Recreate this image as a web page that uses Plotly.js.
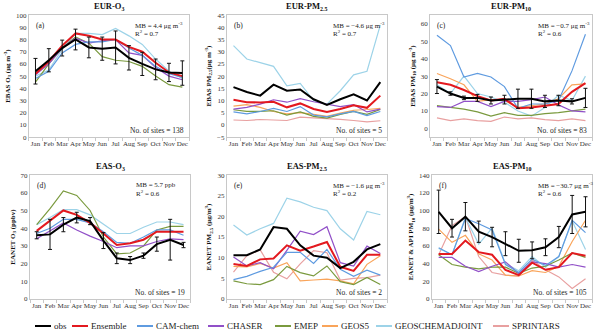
<!DOCTYPE html>
<html>
<head>
<meta charset="utf-8">
<script src="https://cdn.plot.ly/plotly-3.0.1.min.js"></script>
<style>
  html, body { margin: 0; padding: 0; background: #fff; }
  #chart { width: 600px; height: 336px; }
</style>
</head>
<body>
<div id="chart"></div>
<script>
var months = ['Jan', 'Feb', 'Mar', 'Apr', 'May', 'Jun', 'Jul', 'Aug', 'Sep', 'Oct', 'Nov', 'Dec'];
var models = ['obs', 'Ensemble', 'CAM-chem', 'CHASER', 'EMEP', 'GEOS5', 'GEOSCHEMADJOINT', 'SPRINTARS'];

// each panel: one row per model, in the order of `models` (null = not shown)
// (a) EUR-O3
var eurO3 = [
  [54, 63, 73, 80, 73.5, 72.5, 73.5, 65, 60, 55.5, 53, 52.5],
  [52, 62, 75, 85, 83, 80, 80, 74, 70, 61, 53, 50],
  [48, 54, 69, 76, 78, 78, 80, 73, 67, 58, 52, 49],
  [51, 60, 73, 81, 77, 79, 80, 69, 67, 57, 50, 47],
  [45, 60, 73, 82, 77, 66, 63, 62, 58, 50, 43, 41],
  null,
  [50, 55, 72, 85, 85, 84, 89, 83, 76, 64, 54, 48],
  null
];
var eurO3Err = [10.5, 9.5, 6.5, 8.5, 8.5, 9.5, 13.5, 10, 9.5, 8.5, 7.5, 10];

// (b) EUR-PM2.5
var eurPM25 = [
  [15.5, 13.5, 12, 16.5, 14, 14.5, 10.5, 8.2, 10.5, 12.5, 10, 17.5],
  [10.3, 9.3, 9.2, 9.5, 7.2, 8.8, 6.5, 5.3, 6.5, 8, 7, 12],
  [5.3, 4.5, 5.5, 6.8, 5.5, 7.5, 4, 3.3, 4.5, 5.5, 3.8, 5.5],
  [6.5, 7.2, 8.5, 10.3, 9.3, 10.8, 9.5, 8.5, 7.5, 8.3, 5.3, 6.5],
  [6.2, 5.5, 5.5, 5.8, 4, 5.3, 3.5, 2.8, 4.3, 5.5, 4.3, 6.3],
  [7.7, 8.3, 7.2, 5.5, 4.5, 5, 4.3, 3.5, 4.8, 6, 6.3, 6.8],
  [32.5, 27, 25.5, 24, 16, 17, 10, 8.5, 14, 20.5, 22, 41],
  [2, 1.8, 2.2, 2.1, 1.8, 3.2, 3, 2.5, 2.3, 1.8, 1.2, 1.7]
];

// (c) EUR-PM10
var eurPM10 = [
  [24, 20, 17.5, 17.5, 16, 16.5, 17, 17, 15.5, 16, 15.5, 17.5],
  [26.5, 25, 22, 18.5, 16, 17, 11.5, 12, 13, 14, 21, 26],
  [53.5, 47.5, 29.5, 31.5, 29.5, 24, 11.5, 14, 14, 16, 33, 54],
  [12.5, 12, 15.5, 15.5, 12.5, 15.5, 15.5, 16.5, 18, 13.5, 10, 9.5],
  [13, 12, 11, 9.5, 7, 9, 7.5, 7.5, 8.5, 9, 10, 11],
  [31.5, 28.5, 25, 15.5, 16.5, 16, 12, 13, 14, 17, 25, 25.5],
  [25, 20, 30, 20, 18, 15, 10, 7, 12, 19, 16, 30],
  [6, 4.5, 5.5, 4.5, 4, 6.5, 5.5, 6, 5, 4.5, 5.5, 4.5]
];
var eurPM10Err = [4, 1, 1, 2, 2, 2.5, 5.5, 5.5, 3.5, 3, 1.5, 5.5];

// (d) EAS-O3
var easO3 = [
  [36, 36.5, 42, 46, 44, 33, 23, 22, 24.5, 31, 33.5, 30.5],
  [38.5, 44, 50, 47.5, 43, 37, 30.5, 31.5, 33.5, 38, 38, 38],
  [37, 40, 45, 45, 43, 38, 32, 31.5, 35, 39, 39, 36],
  [34, 38.5, 43, 39, 35.5, 32.5, 29, 30, 30, 32.5, 34, 33.5],
  [42, 51, 61, 58.5, 50, 35, 25.5, 26, 30, 39, 41, 41],
  null,
  [42, 46, 50.5, 50.5, 47.5, 42, 37, 37, 40.5, 43.5, 43.5, 42],
  null
];
var easO3Err = [2, 8.5, 4, 3, 2, 4.5, 3, 2, 1.5, 4, 11.5, 1.5];

// (e) EAS-PM2.5
var easPM25 = [
  [10.6, 10.6, 12, 17.4, 17, 13, 10.5, 10, 7.5, 9, 12, 13.3],
  [8.5, 8, 9.6, 9.8, 13, 11.7, 12.7, 13.8, 7.8, 6.8, 10.7, 10.7],
  [4.7, 5.5, 6.7, 7.7, 11.3, 11.3, 8.6, 12, 7.2, 5.5, 7, 5.8],
  [10.2, 8, 8.8, 7.3, 11.8, 16.4, 15.6, 17.5, 8.8, 8, 12.8, 11],
  [4.4, 3.7, 3.5, 4.7, 7.9, 6.4, 5.6, 8, 4.2, 3.5, 5.2, 3.5],
  [7.9, 7.8, 8.6, 7.5, 8.8, 4.4, 4.6, 4.8, 4.4, 3.7, 8.4, 10.5],
  [17.9, 15.5, 17, 18.3, 24.4, 23.5, 22.2, 21.4, 17, 14.3, 21.2, 20.4],
  [6.5, 10.5, 11.9, 6.5, 4.9, 8.5, 11.7, 11.2, 4.6, 5, 5.2, 5.8]
];

// (f) EAS-PM10
var easPM10 = [
  [98.5, 80, 93, 76, 70, 62.5, 54.5, 55, 58.5, 70, 95.5, 98.5],
  [51, 51, 66, 53, 50, 33, 27, 41, 33, 36, 52, 49],
  [58, 50, 91, 85, 78, 39, 30, 45, 38, 48, 89, 75],
  [47, 47, 37, 31, 37, 42, 29, 42, 40, 36, 39, 36],
  [50, 39, 36, 34, 36, 36, 29, 35, 37, 44, 52, 47],
  [79, 64, 72, 51, 44, 27, 26, 32, 30, 37, 65, 89],
  [57, 50, 92, 62, 80, 40, 32, 48, 36, 48, 88, 56],
  [50, 83, 93, 48, 30, 27, 26, 44, 33, 25, 12, 23]
];
var easPM10Err = [24.5, 10, 16, 12, 11, 13.5, 13, 9.5, 9.5, 12, 21.5, 17];

var panels = [
  { data: eurO3, err: eurO3Err, title: 'EUR-O<sub>3</sub>', tag: '(a)',
    ytitle: 'EBAS O<sub>3</sub> (μg m<sup>-3</sup>)', mb: 'MB = 4.4 μg m<sup>-3</sup>', r2: '0.7', sites: 138,
    range: [0, 100], dtick: 10 },
  { data: eurPM25, err: null, title: 'EUR-PM<sub>2.5</sub>', tag: '(b)',
    ytitle: 'EBAS PM<sub>2.5</sub>(μg m<sup>-3</sup>)', mb: 'MB = −4.6 μg m<sup>-3</sup>', r2: '0.7', sites: 5,
    range: [-5, 45], dtick: 5 },
  { data: eurPM10, err: eurPM10Err, title: 'EUR-PM<sub>10</sub>', tag: '(c)',
    ytitle: 'EBAS PM<sub>10</sub> (μg m<sup>-3</sup>)', mb: 'MB = −0.7 μg m<sup>-3</sup>', r2: '0.6', sites: 83,
    range: [-5, 65], dtick: 10 },
  { data: easO3, err: easO3Err, title: 'EAS-O<sub>3</sub>', tag: '(d)',
    ytitle: 'EANET O<sub>3</sub> (ppbv)', mb: 'MB = 5.7 ppb', r2: '0.6', sites: 19,
    range: [0, 70], dtick: 10 },
  { data: easPM25, err: null, title: 'EAS-PM<sub>2.5</sub>', tag: '(e)',
    ytitle: 'EANET PM<sub>2.5</sub> (μg/m<sup>3</sup>)', mb: 'MB = −1.6 μg m<sup>-3</sup>', r2: '0.2', sites: 2,
    range: [0, 30], dtick: 5 },
  { data: easPM10, err: easPM10Err, title: 'EAS-PM<sub>10</sub>', tag: '(f)',
    ytitle: 'EANET & API PM<sub>10</sub> (μg/m<sup>3</sup>)', mb: 'MB = −30.7 μg m<sup>-3</sup>', r2: '0.6', sites: 105,
    range: [0, 140], dtick: 20 }
];

var colors = ['#000000', '#e3191f', '#5f9be0', '#9150c8', '#7a9a3e', '#f9a45a', '#9dd3e8', '#e8a0a0'];
var widths = [2, 2, 1.2, 1.2, 1.2, 1.2, 1.2, 1.2];

var xDom = [[0.048, 0.315], [0.378, 0.645], [0.717, 0.987], [0.05, 0.317], [0.378, 0.645], [0.72, 0.987]];
var yDom = [[0.592, 0.955], [0.592, 0.955], [0.592, 0.955], [0.110, 0.479], [0.110, 0.479], [0.110, 0.479]];
// legend key positions (px from left), row centre (px from top)
var keyX = [35, 72, 137, 208, 275, 322, 376, 493];
var keyY = 326;

var FONT = 'Liberation Serif, Times New Roman, serif';
var traces = [];
var layout = {
  width: 600, height: 336,
  margin: { l: 0, r: 0, t: 0, b: 0 },
  paper_bgcolor: '#fff', plot_bgcolor: '#fff',
  font: { family: FONT, size: 7, color: '#222' },
  showlegend: false,
  annotations: [],
  shapes: []
};

// draw models back to front so obs ends up on top
for (var m = models.length - 1; m >= 0; m--) {
  for (var p = 0; p < panels.length; p++) {
    var vals = panels[p].data[m];
    if (!vals) continue;
    var sfx = p === 0 ? '' : String(p + 1);
    var tr = {
      x: months, y: vals, type: 'scatter', mode: 'lines',
      name: models[m],
      xaxis: 'x' + sfx, yaxis: 'y' + sfx,
      line: { color: colors[m], width: widths[m] },
      hoverinfo: 'skip'
    };
    if (m === 0 && panels[p].err) {
      tr.error_y = { type: 'data', array: panels[p].err, visible: true, color: '#111', thickness: 1, width: 2 };
    }
    traces.push(tr);
  }
}

for (var p = 0; p < panels.length; p++) {
  var P = panels[p];
  var sfx = p === 0 ? '' : String(p + 1);
  var top = p < 3;
  layout['xaxis' + sfx] = {
    domain: xDom[p], anchor: 'y' + sfx, type: 'category', range: [-0.5, 11.5],
    showline: true, mirror: true, linecolor: '#c8c8c8', linewidth: 1,
    ticks: 'outside', tickson: 'boundaries', ticklen: 3, tickcolor: '#c8c8c8',
    tickangle: 0, showgrid: false, tickfont: { size: 7, family: FONT, color: '#333' }, fixedrange: true
  };
  layout['yaxis' + sfx] = {
    domain: yDom[p], anchor: 'x' + sfx, range: P.range, dtick: P.dtick,
    showline: true, mirror: true, linecolor: '#c8c8c8', linewidth: 1,
    ticks: '', showgrid: false, zeroline: false,
    tickfont: { size: 7, family: FONT, color: '#333' },
    title: { text: '<b>' + P.ytitle + '</b>', font: { size: 7, family: FONT, color: '#111' }, standoff: 4 },
    fixedrange: true
  };
  var xr = 'x' + sfx + ' domain', yr = 'y' + sfx + ' domain';
  layout.annotations.push(
    { xref: xr, yref: yr, x: 0.5, y: 1, yanchor: 'bottom', yshift: 1, showarrow: false,
      text: '<b>' + P.title + '</b>', font: { size: 8.5, family: FONT, color: '#111' } },
    { xref: xr, yref: yr, x: 0.03, y: 0.97, xanchor: 'left', yanchor: 'top', showarrow: false,
      text: P.tag, font: { size: 7.5, family: FONT, color: '#222' } },
    { xref: xr, yref: yr, x: 0.65, y: top ? 0.918 : 0.91, xanchor: 'left', yanchor: 'middle', showarrow: false,
      text: P.mb, font: { size: 7, family: FONT, color: '#222' } },
    { xref: xr, yref: yr, x: 0.65, y: top ? 0.848 : 0.845, xanchor: 'left', yanchor: 'middle', showarrow: false,
      text: 'R<sup>2</sup> = ' + P.r2, font: { size: 7, family: FONT, color: '#222' } },
    { xref: xr, yref: yr, x: 0.98, y: 0.05, xanchor: 'right', yanchor: 'middle', showarrow: false,
      text: 'No. of sites = ' + P.sites, font: { size: 7.5, family: FONT, color: '#222' } }
  );
}

// legend row along the bottom
for (var m = 0; m < models.length; m++) {
  var y0 = 1 - keyY / 336;
  layout.shapes.push({
    type: 'line', xref: 'paper', yref: 'paper',
    x0: keyX[m] / 600, x1: (keyX[m] + 16) / 600, y0: y0, y1: y0,
    line: { color: colors[m], width: 2 }
  });
  layout.annotations.push({
    xref: 'paper', yref: 'paper', x: (keyX[m] + 17) / 600, y: y0,
    xanchor: 'left', yanchor: 'middle', showarrow: false,
    text: models[m], font: { size: 9, family: FONT, color: '#222' }
  });
}

Plotly.newPlot('chart', traces, layout, { displayModeBar: false, staticPlot: true });
</script>
</body>
</html>
